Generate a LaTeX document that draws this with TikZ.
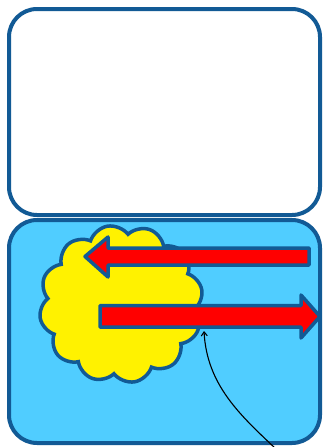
\documentclass[tikz,border=0pt]{standalone}
\usetikzlibrary{shapes.symbols,arrows.meta}
\definecolor{edge}{HTML}{125A95}
\definecolor{sky}{HTML}{50CDFF}
\begin{document}
\begin{tikzpicture}[x=1pt,y=-1pt,
  panel/.style={draw=edge,line width=4pt,rounded corners=28pt,minimum width=311pt,inner sep=0pt},
  bigarrow/.style={draw=edge,fill=red,line width=3.5pt,line join=round},
  pointer/.style={draw=black,line width=1.1pt,-{Straight Barb[length=4pt,width=6pt]}}]
\useasboundingbox (0,0) rectangle (323,447);
\fill[white] (0,0) rectangle (323,447);
\node[panel,fill=white,minimum height=206pt] (top) at (164.5,112) {};
\node[panel,fill=sky,minimum height=223pt] (bottom) at (164.5,331.5) {};
\node[cloud,draw=edge,fill=yellow,line width=3.5pt,cloud puffs=12,cloud puff arc=125,aspect=1.05,
  minimum width=164pt,minimum height=158pt,inner sep=0pt,rotate=10] (cl) at (121,304) {};
\draw[bigarrow] (309,248) -- (108,248) -- (108,237) -- (85,256.5) -- (108,277) -- (108,265) -- (309,265) -- cycle;
\draw[bigarrow] (100,305.5) -- (301,305.5) -- (301,295) -- (320,316.5) -- (301,338) -- (301,327) -- (100,327) -- cycle;
\coordinate (src) at (276,449);
\coordinate (dst) at (204,331);
\draw[pointer] (src) .. controls (240,415) and (207,385) .. (dst);
\end{tikzpicture}
\end{document}
